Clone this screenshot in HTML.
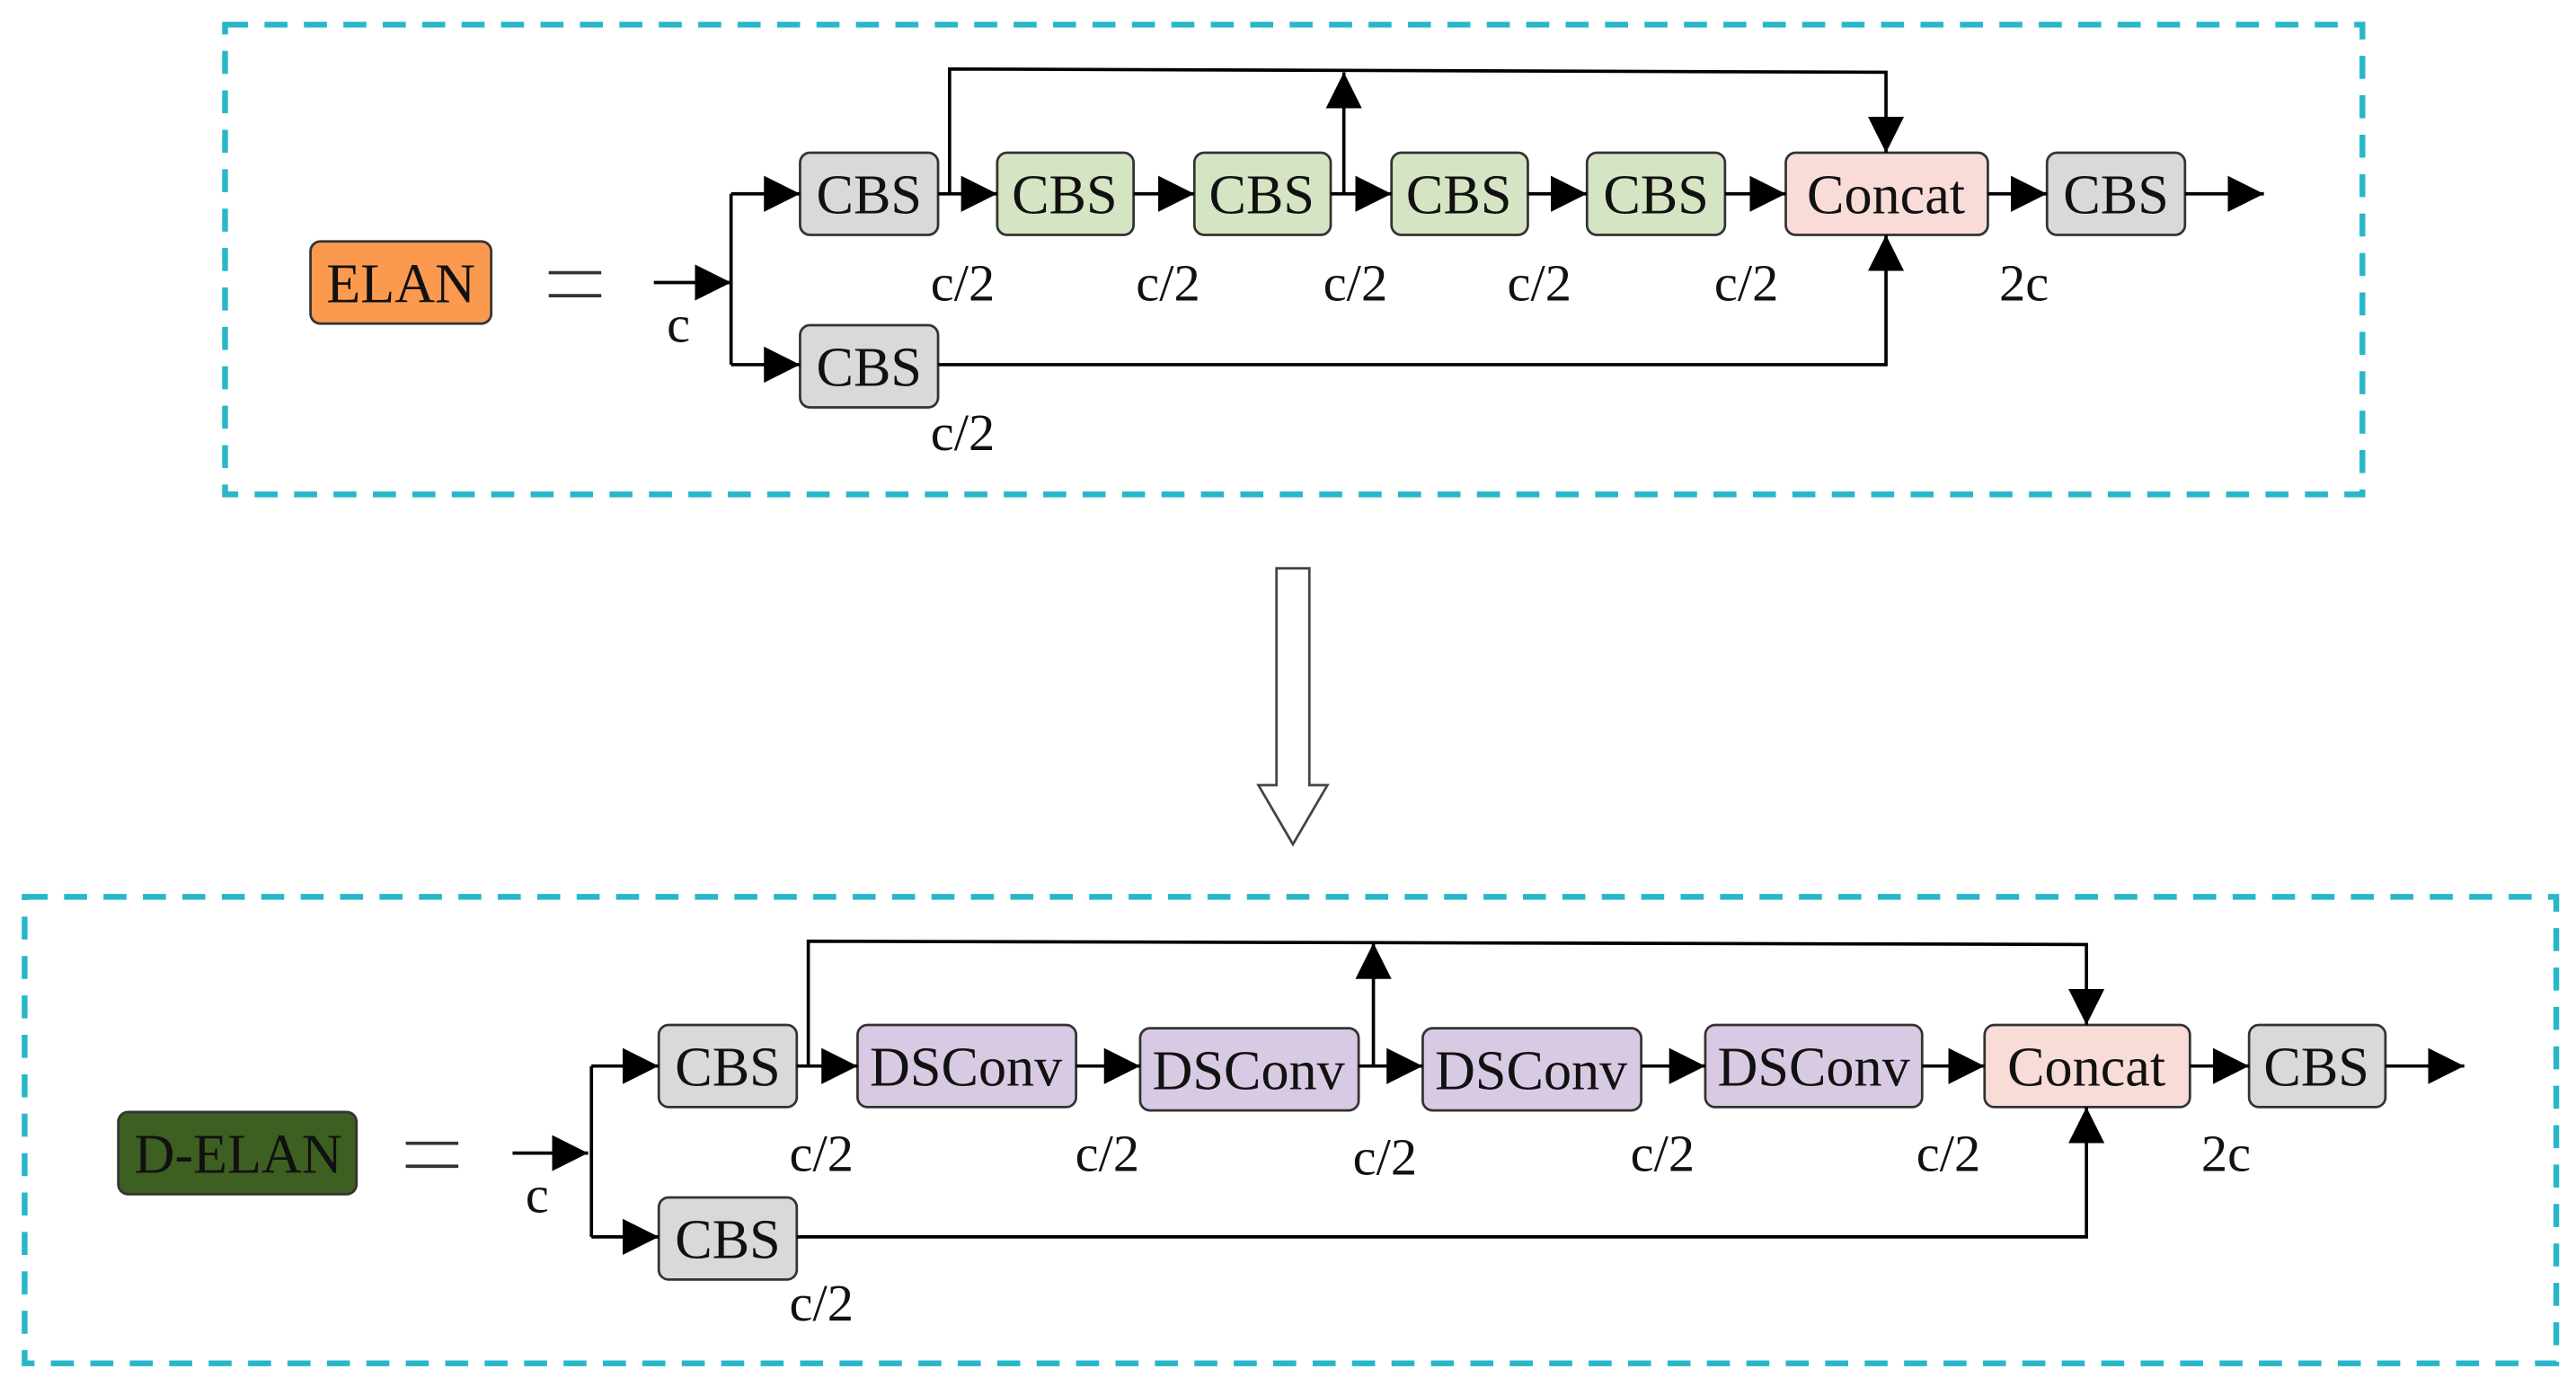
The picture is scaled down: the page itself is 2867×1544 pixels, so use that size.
<!DOCTYPE html>
<html><head><meta charset="utf-8"><style>
html,body{margin:0;padding:0;background:#fff;}
svg{display:block;}
text{font-family:"Liberation Serif",serif;fill:#111;}
</style></head><body>
<svg width="2867" height="1544" viewBox="0 0 1568 844.4" preserveAspectRatio="none" xmlns="http://www.w3.org/2000/svg">
<defs>
<marker id="a" viewBox="0 0 10 10" refX="10" refY="5" markerWidth="22" markerHeight="22" markerUnits="userSpaceOnUse" orient="auto"><path d="M0,0 L10,5 L0,10 z" fill="#000"/></marker>
</defs>
<g fill="none" stroke="#27b7c9" stroke-width="3.5" stroke-dasharray="14,10">
<rect x="137" y="15" width="1301" height="286"/>
<rect x="15" y="546" width="1541" height="284"/>
</g>
<g stroke="#333" stroke-width="1.5">
<rect x="189" y="147" width="110" height="50" rx="6" fill="#fb9a4f"/>
<rect x="72" y="677" width="145" height="50" rx="6" fill="#3d5f21"/>
<rect x="487" y="93" width="84" height="50" rx="6" fill="#d9d9d9"/>
<rect x="607" y="93" width="83" height="50" rx="6" fill="#d5e4c3"/>
<rect x="727" y="93" width="83" height="50" rx="6" fill="#d5e4c3"/>
<rect x="847" y="93" width="83" height="50" rx="6" fill="#d5e4c3"/>
<rect x="966" y="93" width="84" height="50" rx="6" fill="#d5e4c3"/>
<rect x="1087" y="93" width="123" height="50" rx="6" fill="#f9dcd8"/>
<rect x="1246" y="93" width="84" height="50" rx="6" fill="#d9d9d9"/>
<rect x="487" y="198" width="84" height="50" rx="6" fill="#d9d9d9"/>
<rect x="401" y="624" width="84" height="50" rx="6" fill="#d9d9d9"/>
<rect x="522" y="624" width="133" height="50" rx="6" fill="#d8cae3"/>
<rect x="694" y="626" width="133" height="50" rx="6" fill="#d8cae3"/>
<rect x="866" y="626" width="133" height="50" rx="6" fill="#d8cae3"/>
<rect x="1038" y="624" width="132" height="50" rx="6" fill="#d8cae3"/>
<rect x="1208" y="624" width="125" height="50" rx="6" fill="#f9dcd8"/>
<rect x="1369" y="624" width="83" height="50" rx="6" fill="#d9d9d9"/>
<rect x="401" y="729" width="84" height="50" rx="6" fill="#d9d9d9"/>
</g>
<g stroke="#000" stroke-width="2" fill="none">
<line x1="398" y1="172" x2="445" y2="172" marker-end="url(#a)"/>
<polyline points="445,118 445,222"/>
<line x1="445" y1="118" x2="487" y2="118" marker-end="url(#a)"/>
<line x1="445" y1="222" x2="487" y2="222" marker-end="url(#a)"/>
<line x1="571" y1="118" x2="607" y2="118" marker-end="url(#a)"/>
<line x1="690" y1="118" x2="727" y2="118" marker-end="url(#a)"/>
<line x1="810" y1="118" x2="847" y2="118" marker-end="url(#a)"/>
<line x1="930" y1="118" x2="966" y2="118" marker-end="url(#a)"/>
<line x1="1050" y1="118" x2="1087" y2="118" marker-end="url(#a)"/>
<line x1="1210" y1="118" x2="1246" y2="118" marker-end="url(#a)"/>
<line x1="1330" y1="118" x2="1378" y2="118" marker-end="url(#a)"/>
<polyline points="578,118 578,42 1148,44 1148,93" marker-end="url(#a)"/>
<line x1="818" y1="118" x2="818" y2="44" marker-end="url(#a)"/>
<polyline points="571,222 1148,222 1148,143" marker-end="url(#a)"/>
<line x1="312" y1="702" x2="358" y2="702" marker-end="url(#a)"/>
<polyline points="360,649 360,753"/>
<line x1="360" y1="649" x2="401" y2="649" marker-end="url(#a)"/>
<line x1="360" y1="753" x2="401" y2="753" marker-end="url(#a)"/>
<line x1="485" y1="649" x2="522" y2="649" marker-end="url(#a)"/>
<line x1="655" y1="649" x2="694" y2="649" marker-end="url(#a)"/>
<line x1="827" y1="649" x2="866" y2="649" marker-end="url(#a)"/>
<line x1="999" y1="649" x2="1038" y2="649" marker-end="url(#a)"/>
<line x1="1170" y1="649" x2="1208" y2="649" marker-end="url(#a)"/>
<line x1="1333" y1="649" x2="1369" y2="649" marker-end="url(#a)"/>
<line x1="1452" y1="649" x2="1500" y2="649" marker-end="url(#a)"/>
<polyline points="492,649 492,573 1270,575 1270,624" marker-end="url(#a)"/>
<line x1="836" y1="649" x2="836" y2="574" marker-end="url(#a)"/>
<polyline points="485,753 1270,753 1270,674" marker-end="url(#a)"/>
</g>
<path d="M777,346 L797,346 L797,478 L808,478 L787,514 L766,478 L777,478 Z" fill="#fff" stroke="#444" stroke-width="1.5"/>
<g stroke="#333" stroke-width="2"><line x1="334" y1="166" x2="366" y2="166"/><line x1="334" y1="180" x2="366" y2="180"/>
<line x1="247" y1="696" x2="279" y2="696"/><line x1="247" y1="710" x2="279" y2="710"/></g>
<g font-size="34" text-anchor="middle">
<text x="244" y="184">ELAN</text>
<text x="145" y="714">D-ELAN</text>
<text x="529" y="130">CBS</text><text x="648" y="130">CBS</text><text x="768" y="130">CBS</text>
<text x="888" y="130">CBS</text><text x="1008" y="130">CBS</text><text x="1148" y="130">Concat</text>
<text x="1288" y="130">CBS</text><text x="529" y="235">CBS</text>
<text x="443" y="661">CBS</text><text x="588" y="661">DSConv</text><text x="760" y="663">DSConv</text>
<text x="932" y="663">DSConv</text><text x="1104" y="661">DSConv</text><text x="1270" y="661">Concat</text>
<text x="1410" y="661">CBS</text><text x="443" y="766">CBS</text>
</g>
<g font-size="32" text-anchor="middle">
<text x="413" y="208">c</text>
<text x="586" y="183">c/2</text><text x="711" y="183">c/2</text><text x="825" y="183">c/2</text>
<text x="937" y="183">c/2</text><text x="1063" y="183">c/2</text><text x="1232" y="183">2c</text>
<text x="586" y="274">c/2</text>
<text x="327" y="738">c</text>
<text x="500" y="713">c/2</text><text x="674" y="713">c/2</text><text x="843" y="715">c/2</text>
<text x="1012" y="713">c/2</text><text x="1186" y="713">c/2</text><text x="1355" y="713">2c</text>
<text x="500" y="804">c/2</text>
</g>
</svg>
</body></html>
